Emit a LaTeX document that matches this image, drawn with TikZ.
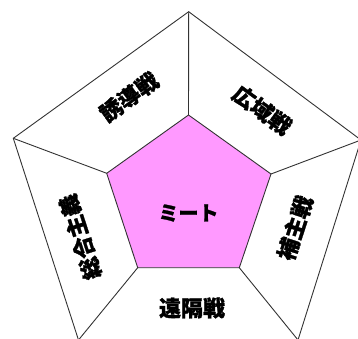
\documentclass[tikz,border=0pt]{standalone}
\usepackage{fontspec}
\newfontfamily\cjk{Noto Sans CJK JP}[BoldFeatures={FakeBold=1.2}]
\begin{document}
\begin{tikzpicture}[x=1pt,y=-1pt,
  edge/.style={draw=black!80,line width=0.9pt,line join=miter},
  lbl/.style={font=\cjk\bfseries\fontsize{22}{22}\selectfont,inner sep=0pt,text=black}]
\useasboundingbox (0,0) rectangle (358,339);
% outer vertices
\coordinate (OT) at (188.7,11.7);
\coordinate (OR) at (361,140);
\coordinate (OBR) at (298,340);
\coordinate (OBL) at (78.5,340);
\coordinate (OL) at (13.3,138.3);
% inner vertices
\coordinate (IT) at (188.5,115);
\coordinate (IR) at (271,174);
\coordinate (IBR) at (239.3,267.7);
\coordinate (IBL) at (137.7,267.7);
\coordinate (IL) at (106.7,173.3);
\draw[edge] (OT) -- (OR) -- (OBR) -- (OBL) -- (OL) -- cycle;
\filldraw[edge,fill={rgb,255:red,255;green,153;blue,255}] (IT) -- (IR) -- (IBR) -- (IBL) -- (IL) -- cycle;
\draw[edge] (IT) -- (OT);
\draw[edge] (IR) -- (OR);
\draw[edge] (IBR) -- (OBR);
\draw[edge] (IBL) -- (OBL);
\draw[edge] (IL) -- (OL);
\node[lbl,rotate=36] (a) at (129,97) {誘導戦};
\node[lbl,rotate=-36] (b) at (262,110) {広域戦};
\node[lbl,rotate=72] (c) at (295,228) {補主戦};
\node[lbl,rotate=108] (d) at (80,237) {総合主義};
\node[lbl] (e) at (192,308) {遠隔戦};
\node[lbl,font=\cjk\bfseries\fontsize{20}{20}\selectfont] (m) at (188.5,213) {ミート};
\end{tikzpicture}
\end{document}
